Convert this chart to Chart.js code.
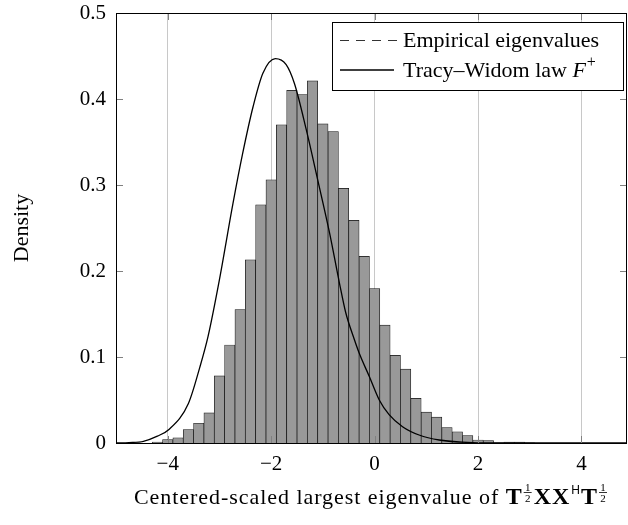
<!DOCTYPE html>
<html>
<head>
<meta charset="utf-8">
<title>Largest eigenvalue vs Tracy-Widom</title>
<script src="https://cdn.jsdelivr.net/npm/chart.js@4.4.1/dist/chart.umd.min.js"></script>
<style>
  html, body { margin: 0; padding: 0; background: #fff; }
</style>
</head>
<body>
<canvas id="myChart" width="628" height="525"></canvas>
<script>
// histogram: bin centres (bin width 0.2) and density
const binCenters = [-4.2, -4.0, -3.8, -3.6, -3.4, -3.2, -3.0, -2.8, -2.6, -2.4, -2.2, -2.0,
  -1.8, -1.6, -1.4, -1.2, -1.0, -0.8, -0.6, -0.4, -0.2, 0.0, 0.2, 0.4, 0.6, 0.8,
  1.0, 1.2, 1.4, 1.6, 1.8, 2.0, 2.2, 2.4, 2.6, 2.8, 3.0];
const binDensity = [0.001, 0.004, 0.006, 0.0155, 0.023, 0.035, 0.078, 0.114, 0.155, 0.213, 0.277, 0.306,
  0.370, 0.410, 0.405, 0.421, 0.371, 0.362, 0.296, 0.259, 0.217, 0.1795, 0.137, 0.102, 0.086, 0.052,
  0.036, 0.030, 0.018, 0.013, 0.0085, 0.0035, 0.0027, 0.0003, 0.001, 0.001, 0.0003];

// Tracy-Widom density curve
const twX = [-5.0, -4.75, -4.47, -4.2, -3.97, -3.6, -3.38, -3.22, -3.0, -2.74, -2.55, -2.35, -2.16,
  -1.92, -1.71, -1.55, -1.32, -1.10, -0.87, -0.68, -0.56, -0.39, -0.295, -0.10, 0.09, 0.28, 0.54,
  0.86, 1.25, 1.89, 2.5, 4.9];
const twY = [0, 0.0005, 0.002, 0.008, 0.016, 0.046, 0.088, 0.124, 0.19, 0.278, 0.337, 0.391, 0.430,
  0.447, 0.440, 0.418, 0.364, 0.306, 0.244, 0.186, 0.152, 0.12, 0.104, 0.077, 0.050, 0.033, 0.019,
  0.0093, 0.0035, 0.0005, 0.0001, 0];

const xTicks = [-4, -2, 0, 2, 4];
const yTicks = [0, 0.1, 0.2, 0.3, 0.4, 0.5];

const SERIF = '"Liberation Serif", "Times New Roman", serif';
const FS = 21;

const histData = binCenters.map((c, i) => ({ x: c, y: binDensity[i] }));
const twData = twX.map((x, i) => ({ x: x, y: twY[i] }));

function fmtX(v) {
  return v < 0 ? '\u2212' + Math.abs(v) : String(v);
}

// draws the frame, inner tick marks, legend and axis titles
const decorations = {
  id: 'decorations',
  afterDraw(chart) {
    const ctx = chart.ctx;
    const a = chart.chartArea;
    const xs = chart.scales.x, ys = chart.scales.y;
    ctx.save();

    // inner tick marks
    ctx.strokeStyle = '#808080';
    ctx.lineWidth = 1;
    ctx.beginPath();
    yTicks.forEach(v => {
      const py = Math.round(ys.getPixelForValue(v)) + 0.5;
      ctx.moveTo(a.left, py); ctx.lineTo(a.left + 7, py);
      ctx.moveTo(a.right, py); ctx.lineTo(a.right - 7, py);
    });
    xTicks.forEach(v => {
      const px = Math.round(xs.getPixelForValue(v)) + 0.5;
      ctx.moveTo(px, a.bottom); ctx.lineTo(px, a.bottom - 7);
      ctx.moveTo(px, a.top); ctx.lineTo(px, a.top + 7);
    });
    ctx.stroke();

    // frame
    ctx.strokeStyle = '#000';
    ctx.strokeRect(Math.round(a.left) + 0.5, Math.round(a.top) + 0.5,
      Math.round(a.right - a.left) - 1, Math.round(a.bottom - a.top));

    // legend
    const lx = 332, ly = 22, lw = 291, lh = 68;
    ctx.fillStyle = '#fff';
    ctx.fillRect(lx, ly, lw, lh);
    ctx.strokeRect(lx + 0.5, ly + 0.5, lw, lh);

    ctx.strokeStyle = '#333';
    ctx.setLineDash([9, 7]);
    ctx.beginPath();
    ctx.moveTo(340, 40.5); ctx.lineTo(397, 40.5);
    ctx.stroke();
    ctx.setLineDash([]);
    ctx.strokeStyle = '#000';
    ctx.lineWidth = 1.3;
    ctx.beginPath();
    ctx.moveTo(340, 70); ctx.lineTo(394, 70);
    ctx.stroke();

    ctx.fillStyle = '#000';
    ctx.textAlign = 'left';
    ctx.textBaseline = 'alphabetic';
    ctx.font = '22px ' + SERIF;
    ctx.fillText('Empirical eigenvalues', 403, 47);
    const t2 = 'Tracy\u2013Widom law ';
    ctx.fillText(t2, 403, 77);
    let fx = 403 + ctx.measureText(t2).width;
    ctx.font = 'italic 22px ' + SERIF;
    ctx.fillText('F', fx, 77);
    fx += ctx.measureText('F').width + 1;
    ctx.font = '16px ' + SERIF;
    ctx.fillText('+', fx, 67);

    // y title
    ctx.save();
    ctx.translate(28, (a.top + a.bottom) / 2);
    ctx.rotate(-Math.PI / 2);
    ctx.textAlign = 'center';
    ctx.font = '22px ' + SERIF;
    ctx.fillText('Density', 0, 0);
    ctx.restore();

    // x title with the matrix expression
    const base = 504;
    const boldF = 'bold 24px ' + SERIF;
    const pieces = [
      { t: 'Centered-scaled largest eigenvalue of ', f: '22px ' + SERIF, ls: 0.95 },
      { t: 'T', f: boldF },
      { frac: true },
      { t: 'XX', f: boldF, ls: 1 },
      { t: 'H', f: '12px "Liberation Sans", sans-serif', up: 10, pad: 2 },
      { t: 'T', f: boldF },
      { frac: true }
    ];
    const fracW = 8;
    let total = 0;
    pieces.forEach(p => {
      if (p.frac) { p.w = fracW + 4; }
      else {
        ctx.font = p.f;
        ctx.letterSpacing = (p.ls || 0) + 'px';
        p.w = ctx.measureText(p.t).width + (p.pad || 0);
      }
      total += p.w;
    });
    let cx = (a.left + a.right) / 2 - total / 2;
    ctx.textAlign = 'left';
    pieces.forEach(p => {
      if (p.frac) {
        ctx.letterSpacing = '0px';
        ctx.font = '11px ' + SERIF;
        ctx.textAlign = 'center';
        ctx.fillText('1', cx + 2 + fracW / 2, base - 13.5);
        ctx.fillText('2', cx + 2 + fracW / 2, base - 2.5);
        ctx.fillRect(cx + 2, base - 12, fracW, 0.8);
        ctx.textAlign = 'left';
      } else {
        ctx.font = p.f;
        ctx.letterSpacing = (p.ls || 0) + 'px';
        ctx.fillText(p.t, cx + (p.pad ? 1 : 0), base - (p.up || 0));
      }
      cx += p.w;
    });
    ctx.letterSpacing = '0px';

    ctx.restore();
  }
};

const myChart = new Chart(document.getElementById('myChart'), {
  type: 'bar',
  data: {
    datasets: [
      {
        type: 'line',
        label: 'Tracy\u2013Widom law F+',
        data: twData,
        borderColor: '#000',
        borderWidth: 1.3,
        pointRadius: 0,
        cubicInterpolationMode: 'monotone',
        fill: false,
        order: 1
      },
      {
        type: 'bar',
        label: 'Empirical eigenvalues',
        data: histData,
        backgroundColor: '#999999',
        borderColor: '#111',
        borderWidth: 0.7,
        barPercentage: 1,
        categoryPercentage: 1,
        grouped: false,
        order: 2
      }
    ]
  },
  options: {
    responsive: false,
    animation: false,
    layout: { padding: { top: 13, right: 1, left: 0, bottom: 0 } },
    plugins: { legend: { display: false }, tooltip: { enabled: false } },
    scales: {
      x: {
        type: 'linear',
        min: -5,
        max: 4.88,
        offset: false,
        afterBuildTicks: s => { s.ticks = xTicks.map(v => ({ value: v })); },
        afterFit: s => { s.height = 82; s.paddingLeft = 0; s.paddingRight = 0; },
        grid: { color: '#c8c8c8', drawTicks: false, offset: false },
        border: { display: false },
        ticks: {
          color: '#000', padding: 9, maxRotation: 0, autoSkip: false,
          font: { family: SERIF, size: FS },
          callback: v => fmtX(v)
        }
      },
      y: {
        min: 0,
        max: 0.5,
        afterBuildTicks: s => { s.ticks = yTicks.map(v => ({ value: v })); },
        afterFit: s => { s.width = 116; s.paddingTop = 0; s.paddingBottom = 0; },
        grid: { display: false, drawTicks: false },
        border: { display: false },
        ticks: {
          color: '#000', padding: 10,
          font: { family: SERIF, size: FS },
          callback: v => v === 0 ? '0' : v.toFixed(1)
        }
      }
    }
  },
  plugins: [decorations]
});
</script>
</body>
</html>
